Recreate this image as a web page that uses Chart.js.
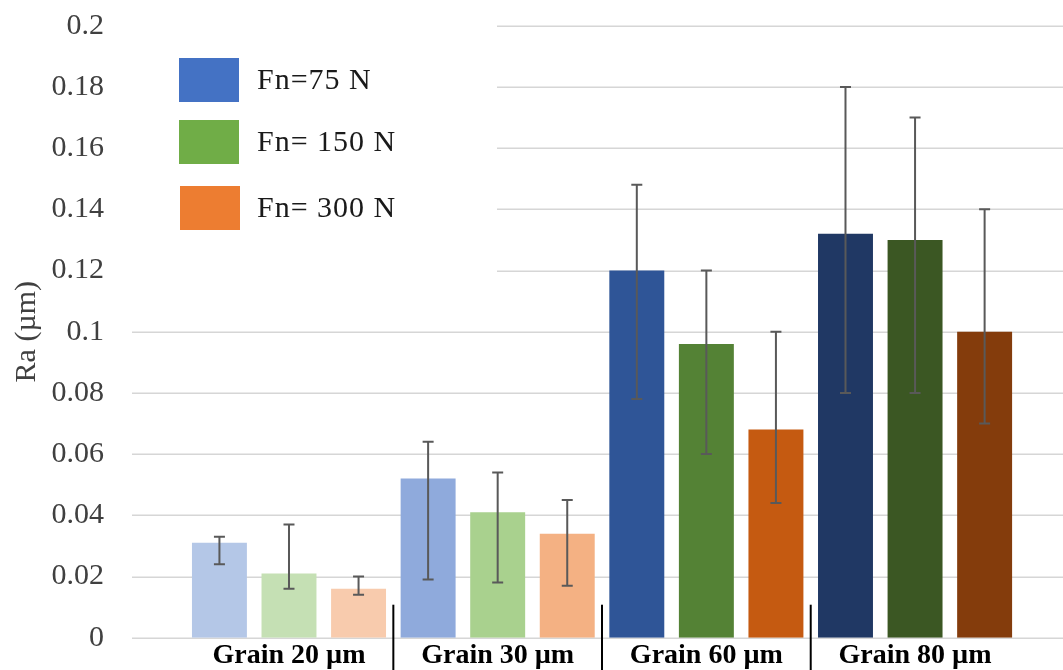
<!DOCTYPE html>
<html>
<head>
<meta charset="utf-8">
<script src="https://cdn.jsdelivr.net/npm/chart.js@4/dist/chart.umd.min.js"></script>
<style>
  html, body { margin: 0; padding: 0; background: #ffffff; }
  #wrap { width: 1063px; height: 670px; }
</style>
</head>
<body>
<div id="wrap"><canvas id="c" width="1063" height="670"></canvas></div>
<script>
// ---- data ----
const categories = ['Grain 20 \u00b5m', 'Grain 30 \u00b5m', 'Grain 60 \u00b5m', 'Grain 80 \u00b5m'];
const seriesLabels = ['Fn=75 N', 'Fn= 150 N', 'Fn= 300 N'];
const ra75  = [0.031, 0.052, 0.120, 0.132];
const ra150 = [0.021, 0.041, 0.096, 0.130];
const ra300 = [0.016, 0.034, 0.068, 0.100];
const err75Low   = [0.024, 0.019, 0.078, 0.080];
const err75High  = [0.033, 0.064, 0.148, 0.180];
const err150Low  = [0.016, 0.018, 0.060, 0.080];
const err150High = [0.037, 0.054, 0.120, 0.170];
const err300Low  = [0.014, 0.017, 0.044, 0.070];
const err300High = [0.020, 0.045, 0.100, 0.140];
const yMin = 0, yMax = 0.2, yStep = 0.02;

// ---- styles ----
const colors75  = ['#b4c7e7', '#8faadc', '#2f5597', '#203864'];
const colors150 = ['#c5e0b4', '#a9d18e', '#548235', '#3b5723'];
const colors300 = ['#f8cbad', '#f4b183', '#c55a11', '#843c0c'];
const legendColors = ['#4472c4', '#70ad47', '#ed7d31'];
const errLows = [err75Low, err150Low, err300Low];
const errHighs = [err75High, err150High, err300High];

const gridPlugin = {
  id: 'gridPlugin',
  beforeDatasetsDraw(chart) {
    const ctx = chart.ctx, y = chart.scales.y;
    ctx.save();
    ctx.strokeStyle = '#d6d6d6';
    ctx.lineWidth = 1.5;
    y.ticks.forEach(t => {
      const py = Math.round(y.getPixelForValue(t.value)) + 0.25;
      ctx.beginPath();
      ctx.moveTo(132, py);
      ctx.lineTo(chart.width, py);
      ctx.stroke();
    });
    // legend background box (covers gridlines)
    ctx.fillStyle = '#ffffff';
    ctx.fillRect(128, 0, 369, 300);
    ctx.restore();
  }
};

const errorBarPlugin = {
  id: 'errorBarPlugin',
  afterDatasetsDraw(chart) {
    const ctx = chart.ctx, y = chart.scales.y;
    ctx.save();
    ctx.strokeStyle = '#595959';
    ctx.lineWidth = 2;
    chart.data.datasets.forEach((ds, di) => {
      const meta = chart.getDatasetMeta(di);
      meta.data.forEach((bar, i) => {
        const x = bar.x;
        const yl = y.getPixelForValue(errLows[di][i]);
        const yh = y.getPixelForValue(errHighs[di][i]);
        ctx.beginPath();
        ctx.moveTo(x, yl); ctx.lineTo(x, yh);
        ctx.moveTo(x - 5.5, yl); ctx.lineTo(x + 5.5, yl);
        ctx.moveTo(x - 5.5, yh); ctx.lineTo(x + 5.5, yh);
        ctx.stroke();
      });
    });
    ctx.restore();
  }
};

const decorPlugin = {
  id: 'decorPlugin',
  afterDraw(chart) {
    const ctx = chart.ctx, x = chart.scales.x, y = chart.scales.y;
    ctx.save();
    // category dividers
    ctx.strokeStyle = '#000000';
    ctx.lineWidth = 2;
    const y0 = y.getPixelForValue(0);
    for (let i = 1; i < categories.length; i++) {
      const px = (x.getPixelForValue(i - 1) + x.getPixelForValue(i)) / 2;
      ctx.beginPath();
      ctx.moveTo(px, y0 - 33);
      ctx.lineTo(px, chart.height);
      ctx.stroke();
    }
    // legend
    const boxes = [[179, 58], [179, 120], [180, 186]];
    ctx.font = '30px "Liberation Serif", "Times New Roman", serif';
    ctx.textBaseline = 'middle';
    ctx.textAlign = 'left';
    try { ctx.letterSpacing = '1px'; } catch (e) {}
    seriesLabels.forEach((lab, i) => {
      const [bx, by] = boxes[i];
      ctx.fillStyle = legendColors[i];
      ctx.fillRect(bx, by, 60, 44);
      ctx.fillStyle = '#1a1a1a';
      ctx.fillText(lab, 257, by + 23);
    });
    ctx.restore();
  }
};

new Chart(document.getElementById('c'), {
  type: 'bar',
  data: {
    labels: categories,
    datasets: [
      { label: seriesLabels[0], data: ra75,  backgroundColor: colors75 },
      { label: seriesLabels[1], data: ra150, backgroundColor: colors150 },
      { label: seriesLabels[2], data: ra300, backgroundColor: colors300 }
    ]
  },
  options: {
    responsive: false,
    animation: false,
    devicePixelRatio: 1,
    barPercentage: 0.79,
    categoryPercentage: 1.0,
    layout: { padding: { top: 25.7, right: 43.6, left: 0, bottom: 0 } },
    plugins: { legend: { display: false }, tooltip: { enabled: false } },
    scales: {
      x: {
        grid: { display: false, drawTicks: false },
        border: { display: false },
        ticks: {
          padding: 1,
          color: '#000000',
          font: { family: '"Liberation Serif", "Times New Roman", serif', size: 28, weight: 'bold' }
        },
        afterFit(scale) { scale.height = 32.3; }
      },
      y: {
        min: yMin, max: yMax,
        grid: { display: false, drawTicks: true, tickLength: 78.6 },
        border: { display: false },
        ticks: {
          stepSize: yStep,
          padding: 2,
          color: '#404040',
          font: { family: '"Liberation Serif", "Times New Roman", serif', size: 30 },
          callback: v => String(+Number(v).toFixed(2))
        },
        title: {
          display: true,
          text: 'Ra (\u00b5m)',
          color: '#404040',
          padding: { top: 9, bottom: 0 },
          font: { family: '"Liberation Serif", "Times New Roman", serif', size: 30 }
        },
        afterFit(scale) { scale.width = 184.65; }
      }
    }
  },
  plugins: [gridPlugin, errorBarPlugin, decorPlugin]
});
</script>
</body>
</html>
